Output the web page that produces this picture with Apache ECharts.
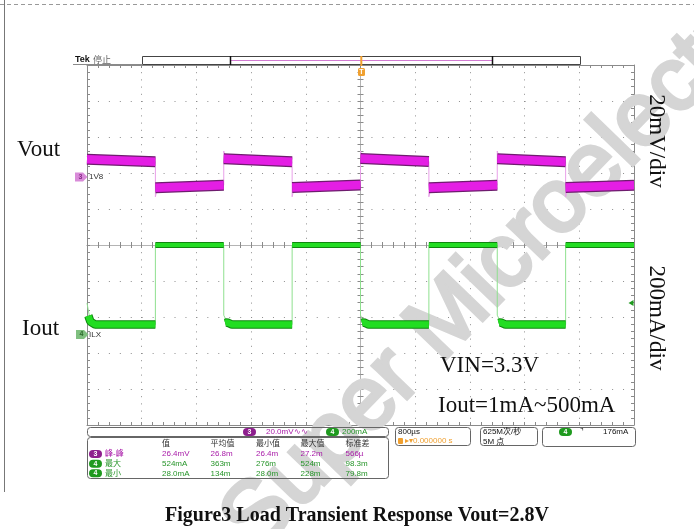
<!DOCTYPE html>
<html>
<head>
<meta charset="utf-8">
<title>Load Transient Response</title>
<script src="https://cdn.jsdelivr.net/npm/echarts@6/dist/echarts.min.js"></script>
<style>
    html, body { margin: 0; padding: 0; background: #fff; }
    #chart { width: 694px; height: 529px; }
</style>
</head>
<body>
<div id="chart"></div>
<script>
// scope settings: 800us/div horizontal (10 div), 10 div vertical
const TIME_MIN = -4;       // ms
const TIME_MAX = 4;        // ms
const TIME_DIV = 0.8;      // ms per division
const VOUT_PER_DIV = 20;   // mV/div
const IOUT_PER_DIV = 200;  // mA/div
const VOUT_POS_DIV = 1.89; // ch3 ground marker, divisions above centre
const IOUT_POS_DIV = -2.49; // ch4 ground marker
const TRIGGER_LEVEL = 176; // mA

// load steps (ms); every step lasts 1 ms, trigger on falling edge at 0
const stepEdges = [-4, -3, -2, -1, 0, 1, 2, 3, 4];
// Vout (mV, AC coupled, relative to ch3 marker)
const voutStart = [9.8, -6.0, 10.1, -5.9, 10.2, -6.0, 10.1, -5.8];
const voutEnd   = [8.5, -4.6, 8.5, -4.5, 8.6, -4.6, 8.5, -4.6];
const voutSpike = [11.5, -11, 14.4, -11, 14.4, -11, 14.4, -11];
// Iout (mA)
const ioutLevel   = [56, 498, 56, 498, 56, 498, 56, 498];
const ioutTail    = [175, null, 108, null, 108, null, 108, null];
const ioutTailMid = [72, null, 68, null, 68, null, 68, null];

// measurement readout
const measHeader = ['值', '平均值', '最小值', '最大值', '标准差'];
const measRows = [
    { ch: '3', name: '峰-峰', vals: ['26.4mV', '26.8m', '26.4m', '27.2m', '566µ'] },
    { ch: '4', name: '最大', vals: ['524mA', '363m', '276m', '524m', '98.3m'] },
    { ch: '4', name: '最小', vals: ['28.0mA', '134m', '28.0m', '228m', '79.8m'] }
];

// build trace tables
const voutLine = [];
const voutBand = [];
const ioutLine = [];
const ioutHi = [];
const ioutLo = [];
for (let i = 0; i < stepEdges.length - 1; i++) {
    const t0 = stepEdges[i];
    const t1 = stepEdges[i + 1];
    voutLine.push([t0, voutSpike[i]], [t0 + 0.03, voutStart[i]], [t1, voutEnd[i]]);
    voutBand.push([t0, voutStart[i]], [t1, voutEnd[i]], [t1, null]);
    if (ioutTail[i] !== null) {
        ioutLine.push([t0, ioutTail[i]], [t0 + 0.05, ioutTailMid[i]], [t0 + 0.12, ioutLevel[i]], [t1, ioutLevel[i]]);
        ioutLo.push([t0 + 0.02, ioutTail[i] * 0.6], [t0 + 0.05, ioutTailMid[i]], [t0 + 0.12, ioutLevel[i]], [t1, ioutLevel[i]], [t1, null]);
    } else {
        ioutLine.push([t0, ioutLevel[i]], [t1, ioutLevel[i]]);
        ioutHi.push([t0, ioutLevel[i]], [t1, ioutLevel[i]], [t1, null]);
    }
}

const GRID = { left: 87, top: 65, width: 547, height: 360 };
const border = '#8a8a8a';
const centre = '#b4b4b4';

function timeAxis(extra) {
    return Object.assign({
        type: 'value', min: TIME_MIN, max: TIME_MAX, interval: TIME_DIV,
        axisLabel: { show: false },
        axisLine: { onZero: false, lineStyle: { color: border } },
        axisTick: { inside: true, length: 3, lineStyle: { color: border } },
        minorTick: { show: true, splitNumber: 5, length: 3, lineStyle: { color: border } },
        splitLine: { show: false }
    }, extra);
}
function divAxis(extra) {
    return Object.assign({
        type: 'value', min: -5, max: 5, interval: 1,
        axisLabel: { show: false },
        axisLine: { onZero: false, lineStyle: { color: border } },
        axisTick: { inside: true, length: 3, lineStyle: { color: border } },
        minorTick: { show: true, splitNumber: 5, length: 3, lineStyle: { color: border } },
        splitLine: { show: false }
    }, extra);
}
const centreLine = { onZero: false, lineStyle: { color: centre } };

const F8 = '8px "Liberation Sans", "Noto Sans CJK SC", sans-serif';
const SERIF = '"Liberation Serif", "Times New Roman", serif';
const C3 = '#a81aa8';
const C4 = '#27952a';

function txt(x, y, text, fill, font, extra) {
    return Object.assign({
        type: 'text', x: x, y: y, z: 50,
        style: { text: text, fill: fill, font: font || F8, verticalAlign: 'middle' }
    }, extra || {});
}
function badge(x, y, label, fill) {
    return [
        { type: 'rect', z: 50, shape: { x: x, y: y - 4, width: 13, height: 8, r: 4 }, style: { fill: fill } },
        { type: 'text', z: 51, x: x + 6.5, y: y,
            style: { text: label, fill: '#fff', font: 'bold 7px "Liberation Sans", sans-serif', align: 'center', verticalAlign: 'middle' } }
    ];
}
function box(x, y, w, h) {
    return { type: 'rect', z: 49, shape: { x: x, y: y, width: w, height: h, r: 3 }, style: { fill: 'none', stroke: '#666', lineWidth: 1 } };
}

const graphics = [];
// watermark, under everything else
graphics.push({ type: 'text', z: 1, x: 239, y: 537, rotation: 0.803, silent: true,
    style: { text: 'Super Microelectronics', fill: '#d5d5d5', stroke: '#d5d5d5', lineWidth: 4,
        font: '90px "Liberation Sans", sans-serif', align: 'left', verticalAlign: 'middle' } });
// page frame
graphics.push({ type: 'line', z: 40, shape: { x1: 4.5, y1: 0, x2: 4.5, y2: 492 }, style: { stroke: '#777', lineWidth: 1 } });
graphics.push({ type: 'line', z: 40, shape: { x1: 0, y1: 4.5, x2: 694, y2: 4.5 }, style: { stroke: '#999', lineWidth: 1, lineDash: [4, 3] } });
// Tek header and record bar
graphics.push(txt(75, 60, 'Tek', '#111', 'bold 9px "Liberation Sans", sans-serif'));
graphics.push(txt(93, 60, '停止', '#666', '9px "Noto Sans CJK SC", sans-serif'));
graphics.push({ type: 'line', z: 40, shape: { x1: 73, y1: 64.5, x2: 142, y2: 64.5 }, style: { stroke: border } });
graphics.push({ type: 'rect', z: 40, shape: { x: 142.5, y: 56.5, width: 438, height: 8 }, style: { fill: '#fff', stroke: '#444', lineWidth: 1 } });
graphics.push({ type: 'line', z: 41, shape: { x1: 231, y1: 60.5, x2: 492, y2: 60.5 }, style: { stroke: '#d27bd2', lineWidth: 1 } });
graphics.push({ type: 'line', z: 41, shape: { x1: 230.5, y1: 56, x2: 230.5, y2: 65 }, style: { stroke: '#111', lineWidth: 1.5 } });
graphics.push({ type: 'line', z: 41, shape: { x1: 492.5, y1: 56, x2: 492.5, y2: 65 }, style: { stroke: '#111', lineWidth: 1.5 } });
graphics.push({ type: 'line', z: 42, shape: { x1: 361.3, y1: 56, x2: 361.3, y2: 66 }, style: { stroke: '#f0a030', lineWidth: 2 } });
graphics.push({ type: 'rect', z: 42, shape: { x: 358, y: 68, width: 7, height: 8, r: 1.5 }, style: { fill: '#f0a030' } });
graphics.push({ type: 'text', z: 43, x: 361.5, y: 72.5,
    style: { text: 'T', fill: '#fff', font: 'bold 7px "Liberation Sans", sans-serif', align: 'center', verticalAlign: 'middle' } });
// channel markers
graphics.push({ type: 'polygon', z: 45, shape: { points: [[75, 172.5], [83, 172.5], [87.5, 177], [83, 181.5], [75, 181.5]] }, style: { fill: '#d98bd9' } });
graphics.push(txt(78.5, 177, '3', '#8a2a8a', 'bold 7px "Liberation Sans", sans-serif'));
graphics.push(txt(89, 177, '1V8', '#333', F8));
graphics.push({ type: 'polygon', z: 45, shape: { points: [[76, 330], [84, 330], [88.5, 334.5], [84, 339], [76, 339]] }, style: { fill: '#7fbf7f' } });
graphics.push(txt(79.5, 334.5, '4', '#2a6a2a', 'bold 7px "Liberation Sans", sans-serif'));
graphics.push(txt(89, 334.5, 'ILX', '#333', F8));
// annotations
graphics.push(txt(17, 150, 'Vout', '#111', '23px ' + SERIF));
graphics.push(txt(22, 329, 'Iout', '#111', '23px ' + SERIF));
graphics.push(txt(440, 366, 'VIN=3.3V', '#111', '23px ' + SERIF));
graphics.push(txt(438, 406, 'Iout=1mA~500mA', '#111', '23px ' + SERIF));
graphics.push({ type: 'text', z: 50, x: 656, y: 141, rotation: -Math.PI / 2,
    style: { text: '20mV/div', fill: '#111', font: '23px ' + SERIF, align: 'center', verticalAlign: 'middle' } });
graphics.push({ type: 'text', z: 50, x: 656, y: 318, rotation: -Math.PI / 2,
    style: { text: '200mA/div', fill: '#111', font: '23px ' + SERIF, align: 'center', verticalAlign: 'middle' } });
// readout boxes
graphics.push(box(87.5, 427.5, 301, 9));
graphics.push(...badge(243, 432, '3', '#8e1f8e'));
graphics.push(txt(266, 432, '20.0mV∿∿', C3, F8));
graphics.push(...badge(326, 432, '4', '#1f9a1f'));
graphics.push(txt(342, 432, '200mA', C4, F8));
graphics.push(box(87.5, 437.5, 301, 41));
const colX = [162, 210.5, 256, 300.5, 345.5];
measHeader.forEach((h, i) => graphics.push(txt(colX[i], 444, h, '#333', F8)));
const rowY = [454, 463.7, 473.3];
measRows.forEach((r, j) => {
    const col = r.ch === '3' ? C3 : C4;
    graphics.push(...badge(89, rowY[j], r.ch, r.ch === '3' ? '#8e1f8e' : '#1f9a1f'));
    graphics.push(txt(105, rowY[j], r.name, col, F8));
    r.vals.forEach((v, i) => graphics.push(txt(colX[i], rowY[j], v, col, F8)));
});
graphics.push(box(395.5, 427.5, 75, 18));
graphics.push(txt(398, 432, '800µs', '#111', F8));
graphics.push({ type: 'rect', z: 50, shape: { x: 398, y: 438, width: 5, height: 6, r: 1 }, style: { fill: '#f0a030' } });
graphics.push(txt(405, 441, '▸▾0.000000 s', '#f0a030', F8));
graphics.push(box(480.5, 427.5, 57, 18));
graphics.push(txt(483, 432, '625M次/秒', '#111', F8));
graphics.push(txt(483, 442, '5M 点', '#111', F8));
graphics.push(box(542.5, 427.5, 93, 19));
graphics.push(...badge(559, 432, '4', '#1f9a1f'));
graphics.push(txt(580, 432, '⌝', '#111', F8));
graphics.push(txt(603, 432, '176mA', '#111', F8));
// caption
graphics.push({ type: 'text', z: 50, x: 357, y: 516,
    style: { text: 'Figure3 Load Transient Response Vout=2.8V', fill: '#111', font: 'bold 20px ' + SERIF, align: 'center', verticalAlign: 'middle' } });

const chart = echarts.init(document.getElementById('chart'), null, { renderer: 'canvas' });
chart.setOption({
    animation: false,
    backgroundColor: '#fff',
    grid: GRID,
    xAxis: [
        timeAxis({ position: 'bottom', splitLine: { show: true, lineStyle: { color: '#8e8e8e', type: [1, 6.2], width: 1 } } }),
        timeAxis({ position: 'top' }),
        timeAxis({ position: 'bottom', offset: -180, axisLine: centreLine, axisTick: { inside: true, length: 3, lineStyle: { color: border } } }),
        timeAxis({ position: 'bottom', offset: -180, axisLine: centreLine, axisTick: { inside: false, length: 3, lineStyle: { color: border } } })
    ],
    yAxis: [
        divAxis({ position: 'left', splitLine: { show: true, lineStyle: { color: '#8e8e8e', type: [1, 9.94], width: 1 } } }),
        divAxis({ position: 'right' }),
        divAxis({ position: 'left', offset: -273.5, axisLine: centreLine, axisTick: { inside: true, length: 3, lineStyle: { color: border } } }),
        divAxis({ position: 'left', offset: -273.5, axisLine: centreLine, axisTick: { inside: false, length: 3, lineStyle: { color: border } } }),
        { type: 'value', show: false, min: -(5 + VOUT_POS_DIV) * VOUT_PER_DIV, max: (5 - VOUT_POS_DIV) * VOUT_PER_DIV },
        { type: 'value', show: false, min: -(5 + IOUT_POS_DIV) * IOUT_PER_DIV, max: (5 - IOUT_POS_DIV) * IOUT_PER_DIV }
    ],
    series: [
        { type: 'line', xAxisIndex: 0, yAxisIndex: 4, data: voutLine, symbol: 'none', silent: true, z: 3,
            lineStyle: { color: '#e9a0e9', width: 1 } },
        { type: 'line', xAxisIndex: 0, yAxisIndex: 4, data: voutBand, symbol: 'none', silent: true, z: 4, connectNulls: false,
            lineStyle: { color: '#6e1c6e', width: 11 } },
        { type: 'line', xAxisIndex: 0, yAxisIndex: 4, data: voutBand, symbol: 'none', silent: true, z: 5, connectNulls: false,
            lineStyle: { color: '#e41ee4', width: 8.5 } },
        { type: 'line', xAxisIndex: 0, yAxisIndex: 5, data: ioutLine, symbol: 'none', silent: true, z: 3,
            lineStyle: { color: '#8fe08f', width: 1 },
            markPoint: { silent: true, symbol: 'triangle', symbolSize: [6, 5], symbolRotate: 90, symbolOffset: [-3, 0],
                itemStyle: { color: '#1f9a1f' }, label: { show: false },
                data: [{ coord: [TIME_MAX, TRIGGER_LEVEL] }] } },
        { type: 'line', xAxisIndex: 0, yAxisIndex: 5, data: ioutHi, symbol: 'none', silent: true, z: 4, connectNulls: false,
            lineStyle: { color: '#0f870f', width: 6 } },
        { type: 'line', xAxisIndex: 0, yAxisIndex: 5, data: ioutHi, symbol: 'none', silent: true, z: 5, connectNulls: false,
            lineStyle: { color: '#22dd22', width: 4 } },
        { type: 'line', xAxisIndex: 0, yAxisIndex: 5, data: ioutLo, symbol: 'none', silent: true, z: 4, connectNulls: false,
            lineStyle: { color: '#0f870f', width: 8.5 } },
        { type: 'line', xAxisIndex: 0, yAxisIndex: 5, data: ioutLo, symbol: 'none', silent: true, z: 5, connectNulls: false,
            lineStyle: { color: '#22dd22', width: 6.5 } }
    ],
    graphic: graphics
});
</script>
</body>
</html>
